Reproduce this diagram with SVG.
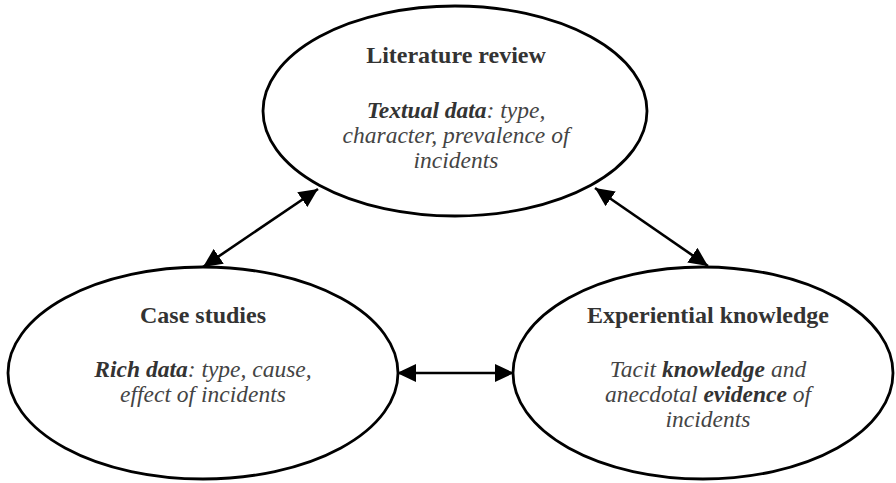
<svg xmlns="http://www.w3.org/2000/svg" width="896" height="483" viewBox="0 0 896 483">
<defs>
<style>
.node{fill:#fff;stroke:#000;stroke-width:2.8}
.title{font-family:"Liberation Serif","Times New Roman",serif;font-size:24px;font-weight:bold;fill:#333;text-anchor:middle}
.body{font-family:"Liberation Serif","Times New Roman",serif;font-size:23.5px;font-style:italic;fill:#444;text-anchor:middle}
.b{font-weight:bold;fill:#333}
.conn{stroke:#000;stroke-width:2.6;fill:none;marker-start:url(#ah);marker-end:url(#ah)}
</style>
<marker id="ah" markerUnits="userSpaceOnUse" markerWidth="20" markerHeight="18" viewBox="0 0 20 18" refX="19" refY="9" orient="auto-start-reverse">
<path d="M0,0 L19,9 L0,18 z" fill="#000"/>
</marker>
</defs>
<rect width="896" height="483" fill="#fff"/>
<g id="literature-review">
<ellipse class="node" cx="455" cy="111" rx="192" ry="105"/>
<text class="title" x="456" y="63">Literature review</text>
<text class="body" x="456" y="118"><tspan class="b">Textual data</tspan>: type,</text>
<text class="body" x="456" y="143">character, prevalence of</text>
<text class="body" x="456" y="168">incidents</text>
</g>
<g id="case-studies">
<ellipse class="node" cx="203" cy="373" rx="195" ry="106"/>
<text class="title" x="203" y="323">Case studies</text>
<text class="body" x="203" y="377"><tspan class="b">Rich data</tspan>: type, cause,</text>
<text class="body" x="203" y="402">effect of incidents</text>
</g>
<g id="experiential-knowledge">
<ellipse class="node" cx="703" cy="373" rx="190" ry="106"/>
<text class="title" x="708" y="323">Experiential knowledge</text>
<text class="body" x="708" y="377">Tacit <tspan class="b">knowledge</tspan> and</text>
<text class="body" x="708" y="402">anecdotal <tspan class="b">evidence</tspan> of</text>
<text class="body" x="708" y="427">incidents</text>
</g>
<g id="connectors">
<line class="conn" x1="318" y1="189" x2="203" y2="267"/>
<line class="conn" x1="595" y1="188" x2="708" y2="266"/>
<line class="conn" x1="397" y1="373" x2="514" y2="373"/>
</g>
</svg>
